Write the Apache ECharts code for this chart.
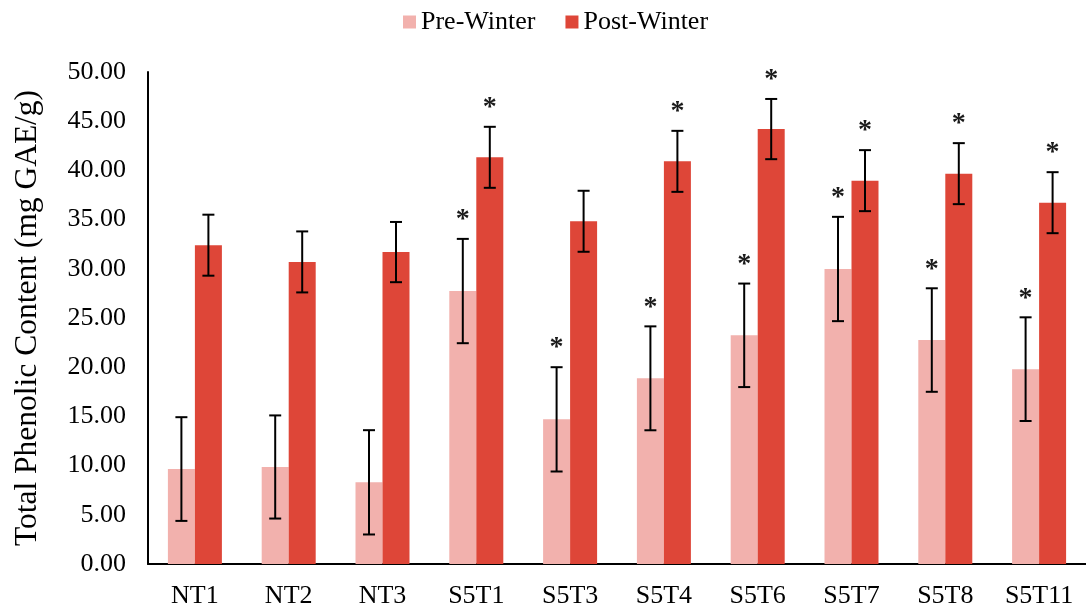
<!DOCTYPE html>
<html>
<head>
<meta charset="utf-8">
<script src="https://cdn.jsdelivr.net/npm/echarts@6/dist/echarts.min.js"></script>
<style>
html,body{margin:0;padding:0;background:#fff;}
#chart{width:1086px;height:610px;}
</style>
</head>
<body>
<div id="chart"></div>
<script>
const categories = ['NT1','NT2','NT3','S5T1','S5T3','S5T4','S5T6','S5T7','S5T8','S5T11'];
const preWinter = [9.65, 9.86, 8.3, 27.74, 14.7, 18.87, 23.24, 29.98, 22.76, 19.8];
const postWinter = [32.4, 30.7, 31.7, 41.33, 34.83, 40.92, 44.2, 38.96, 39.67, 36.72];
const preError = [5.27, 5.24, 5.3, 5.3, 5.3, 5.28, 5.26, 5.3, 5.26, 5.27];
const postError = [3.1, 3.1, 3.06, 3.1, 3.1, 3.1, 3.06, 3.1, 3.1, 3.1];
const preSig = [0, 0, 0, 1, 1, 1, 1, 1, 1, 1];
const postSig = [0, 0, 0, 1, 0, 1, 1, 1, 1, 1];
const yTicks = [0, 5, 10, 15, 20, 25, 30, 35, 40, 45, 50];

const FONT = "'Liberation Serif', 'Times New Roman', serif";
const PRE_COLOR = '#F2B1AD';
const POST_COLOR = '#DE4638';
const BAR_W = 27;

function errData(vals, errs, sig) {
  return vals.map((v, i) => [i, v, errs[i], sig[i]]);
}

function makeErrRender(side) {
  return function (params, api) {
    const i = api.value(0), v = api.value(1), e = api.value(2), s = api.value(3);
    const c = api.coord([i, v]);
    const x = c[0] + side * BAR_W / 2;
    const top = api.coord([i, v + e])[1];
    const bot = api.coord([i, v - e])[1];
    const half = 6;
    const st = { stroke: '#000', lineWidth: 2 };
    const children = [
      { type: 'line', shape: { x1: x, y1: top, x2: x, y2: bot }, style: st },
      { type: 'line', shape: { x1: x - half, y1: top, x2: x + half, y2: top }, style: st },
      { type: 'line', shape: { x1: x - half, y1: bot, x2: x + half, y2: bot }, style: st }
    ];
    if (s) {
      children.push({
        type: 'text',
        style: {
          text: '*', x: x, y: top - 5,
          align: 'center', verticalAlign: 'bottom',
          font: 'bold 28px ' + FONT, fill: '#1a1a1a'
        }
      });
    }
    return { type: 'group', children: children };
  };
}

const chart = echarts.init(document.getElementById('chart'));
chart.setOption({
  animation: false,
  backgroundColor: '#fff',
  textStyle: { fontFamily: FONT },
  legend: {
    left: 403, top: 9, padding: 0,
    itemWidth: 13, itemHeight: 13, itemGap: 30,
    icon: 'rect',
    textStyle: { fontFamily: FONT, fontSize: 26, color: '#000' },
    data: ['Pre-Winter', 'Post-Winter']
  },
  grid: { left: 148, right: 0, top: 72, bottom: 46, containLabel: false },
  xAxis: {
    type: 'category',
    data: categories,
    axisLine: { lineStyle: { color: '#000', width: 2 } },
    axisTick: { show: false },
    axisLabel: { fontFamily: FONT, fontSize: 26, color: '#000', margin: 19 }
  },
  yAxis: {
    type: 'value',
    min: yTicks[0], max: yTicks[yTicks.length - 1], interval: yTicks[1] - yTicks[0],
    name: 'Total Phenolic Content (mg GAE/g)',
    nameLocation: 'middle',
    nameGap: 104,
    nameTextStyle: { fontFamily: FONT, fontSize: 31.5, color: '#000' },
    axisLine: { show: true, lineStyle: { color: '#000', width: 2 } },
    axisTick: { show: false },
    splitLine: { show: false },
    axisLabel: { fontFamily: FONT, fontSize: 26, color: '#000', margin: 22,
      formatter: v => v.toFixed(2) }
  },
  series: [
    { name: 'Pre-Winter', type: 'bar', data: preWinter, barWidth: BAR_W, barGap: '0%',
      itemStyle: { color: PRE_COLOR } },
    { name: 'Post-Winter', type: 'bar', data: postWinter, barWidth: BAR_W, barGap: '0%',
      itemStyle: { color: POST_COLOR } },
    { type: 'custom', data: errData(preWinter, preError, preSig), renderItem: makeErrRender(-1), z: 10, silent: true },
    { type: 'custom', data: errData(postWinter, postError, postSig), renderItem: makeErrRender(1), z: 10, silent: true }
  ]
});
</script>
</body>
</html>
